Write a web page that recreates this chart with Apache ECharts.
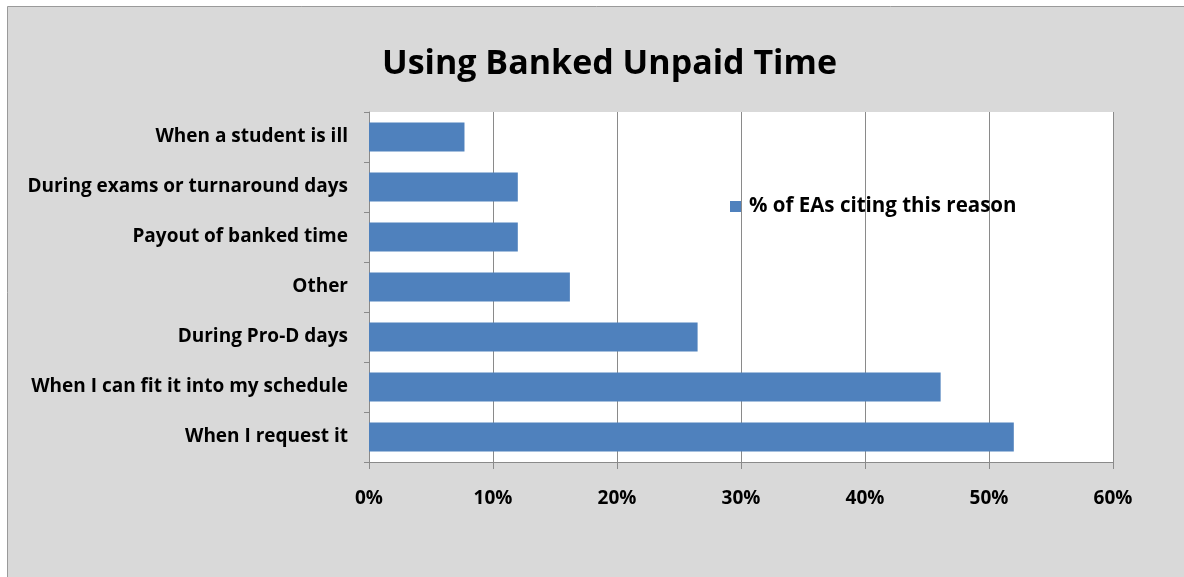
<!DOCTYPE html>
<html><head><meta charset="utf-8">
<script src="https://cdn.jsdelivr.net/npm/echarts@6/dist/echarts.min.js"></script>
<style>html,body{margin:0;padding:0;background:#fff}#c{width:1184px;height:577px}</style>
</head><body><div id="c"></div>
<script>
const categories = ["When a student is ill","During exams or turnaround days","Payout of banked time","Other","During Pro-D days","When I can fit it into my schedule","When I request it"];
const values = [7.7, 12.0, 12.0, 16.2, 26.5, 46.1, 52.0];
const seriesName = "% of EAs citing this reason";
const FONT = "Open Sans";
const chart = echarts.init(document.getElementById('c'));
chart.setOption({
  backgroundColor: '#ffffff',
  animation: false,
  graphic: [{type:'rect', z:-10, shape:{x:7.5,y:6.5,width:1200,height:600}, style:{fill:'#d9d9d9', stroke:'#9a9a9a', lineWidth:1}}],
  title: {text:'Using Banked Unpaid Time', left:377, top:42, textStyle:{fontFamily:FONT, fontSize:34, fontWeight:'bold', color:'#000'}},
  legend: {left:730, top:196, padding:0, icon:'rect', itemWidth:11, itemHeight:11, textStyle:{fontFamily:FONT, fontSize:20.5, fontWeight:'bold', color:'#000', padding:[0,0,0,3]}, data:[seriesName]},
  grid: {left:369, right:71, top:112, bottom:115, show:true, backgroundColor:'#ffffff', borderWidth:0},
  xAxis: {type:'value', min:0, max:60, interval:10,
    axisLabel:{formatter:'{value}%', fontFamily:FONT, fontSize:19, fontWeight:'bold', color:'#000', margin:27},
    axisLine:{show:true, lineStyle:{color:'#8a8a8a'}},
    axisTick:{show:true, length:7, lineStyle:{color:'#8a8a8a'}},
    splitLine:{show:true, lineStyle:{color:'#8a8a8a', width:1}}},
  yAxis: {type:'category', data:categories, inverse:true,
    axisLabel:{fontFamily:FONT, fontSize:19, fontWeight:'bold', color:'#000', margin:21},
    axisLine:{show:true, lineStyle:{color:'#8a8a8a'}},
    axisTick:{show:true, length:5, lineStyle:{color:'#8a8a8a'}}},
  series: [{name:seriesName, type:'bar', data:values, barWidth:29, itemStyle:{color:'#4f81bd'}}]
});
</script></body></html>
